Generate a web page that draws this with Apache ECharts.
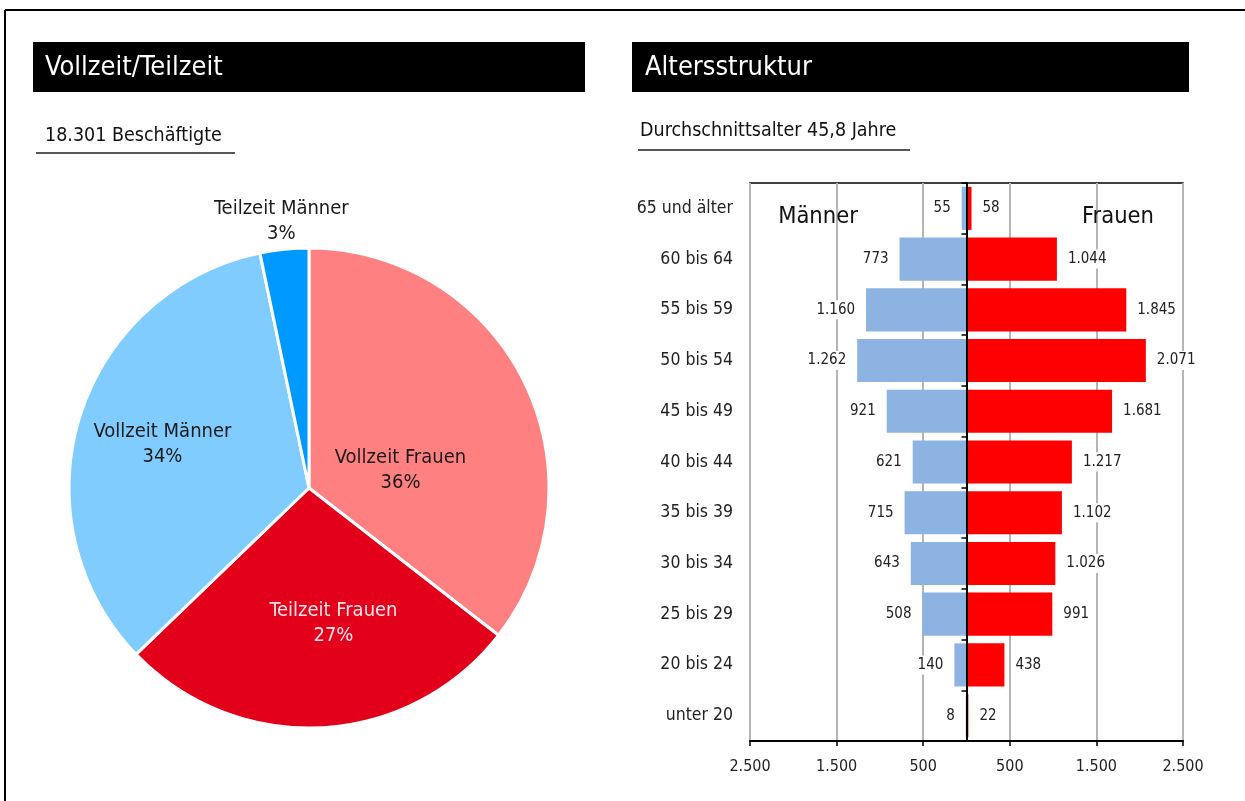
<!DOCTYPE html>
<html>
<head>
<meta charset="utf-8">
<script src="https://cdn.jsdelivr.net/npm/echarts@6/dist/echarts.min.js"></script>
<style>
html,body{margin:0;padding:0;background:#fff;}
#c{width:1245px;height:801px;}
</style>
</head>
<body>
<div id="c"></div>
<script>
// ---- data ----
const pieNames = ['Vollzeit Frauen', 'Teilzeit Frauen', 'Vollzeit Männer', 'Teilzeit Männer'];
const pieValues = [6500, 4995, 6206, 600];
const ageCategories = ['65 und älter', '60 bis 64', '55 bis 59', '50 bis 54', '45 bis 49', '40 bis 44', '35 bis 39', '30 bis 34', '25 bis 29', '20 bis 24', 'unter 20'];
const menValues = [55, 773, 1160, 1262, 921, 621, 715, 643, 508, 140, 8];
const womenValues = [58, 1044, 1845, 2071, 1681, 1217, 1102, 1026, 991, 438, 22];
const titleLeft = 'Vollzeit/Teilzeit';
const titleRight = 'Altersstruktur';
const subLeft = '18.301 Beschäftigte';
const subRight = 'Durchschnittsalter 45,8 Jahre';

const FONT = "'Liberation Sans Narrow', 'DejaVu Sans Condensed', 'Noto Sans', sans-serif";
const pieColors = ['#FF8080', '#E2001A', '#80CCFF', '#0099FF'];
const pieLabelColors = ['#1a1a1a', '#ffe6ea', '#1a1a1a', '#1a1a1a'];
const pieLabelShift = [[-19, 36], [18, 12], [-29, -7], [-15, -144]];

function de(n) {
  return String(Math.abs(Math.round(n))).replace(/\B(?=(\d{3})+(?!\d))/g, '.');
}

const chart = echarts.init(document.getElementById('c'), null, {renderer: 'canvas'});

const option = {
  animation: false,
  backgroundColor: '#fff',
  textStyle: {fontFamily: FONT},
  graphic: [
    {type: 'line', shape: {x1: 5, y1: 10, x2: 1245, y2: 10}, style: {stroke: '#000', lineWidth: 2}},
    {type: 'line', shape: {x1: 5, y1: 10, x2: 5, y2: 801}, style: {stroke: '#000', lineWidth: 2}},
    {type: 'rect', shape: {x: 33, y: 42, width: 552, height: 50}, style: {fill: '#000'}},
    {type: 'rect', shape: {x: 632, y: 42, width: 557, height: 50}, style: {fill: '#000'}},
    {type: 'text', x: 45, y: 68, style: {text: titleLeft, fill: '#fff', font: '27px ' + FONT, textVerticalAlign: 'middle'}},
    {type: 'text', x: 645, y: 68, style: {text: titleRight, fill: '#fff', font: '27px ' + FONT, textVerticalAlign: 'middle'}},
    {type: 'text', x: 45, y: 136, style: {text: subLeft, fill: '#111', font: '19.5px ' + FONT, textVerticalAlign: 'middle'}},
    {type: 'text', x: 640, y: 131, style: {text: subRight, fill: '#111', font: '19.5px ' + FONT, textVerticalAlign: 'middle'}},
    {type: 'line', shape: {x1: 36, y1: 153, x2: 235, y2: 153}, style: {stroke: '#222', lineWidth: 1.5}},
    {type: 'line', shape: {x1: 638, y1: 150, x2: 910, y2: 150}, style: {stroke: '#222', lineWidth: 1.5}},
    {type: 'text', x: 818, y: 217, z: 20, style: {text: 'Männer', fill: '#111', font: '23.5px ' + FONT, textAlign: 'center', textVerticalAlign: 'middle'}},
    {type: 'text', x: 1118, y: 217, z: 20, style: {text: 'Frauen', fill: '#111', font: '23.5px ' + FONT, textAlign: 'center', textVerticalAlign: 'middle'}}
  ],
  grid: {
    left: 750, right: 62, top: 183, bottom: 60,
    show: true, borderColor: '#000', borderWidth: 1.5, backgroundColor: 'transparent'
  },
  xAxis: {
    type: 'value', min: -2500, max: 2500, interval: 1000,
    axisLine: {show: true, onZero: false, lineStyle: {color: '#000', width: 2}},
    axisTick: {show: true, length: 5, lineStyle: {color: '#000', width: 1.5}},
    axisLabel: {fontSize: 16, color: '#222', margin: 18, formatter: v => de(v), fontFamily: FONT},
    splitLine: {show: true, lineStyle: {color: '#b5b5b5', width: 2}}
  },
  yAxis: [
    {
      type: 'category', data: ageCategories, inverse: true, position: 'left',
      axisLine: {show: false, onZero: false}, axisTick: {show: false},
      axisLabel: {fontSize: 17.5, color: '#222', margin: 17, fontFamily: FONT}
    },
    {
      type: 'category', data: ageCategories, inverse: true, position: 'left', z: 10,
      axisLine: {show: true, onZero: true, lineStyle: {color: '#000', width: 2}},
      axisTick: {show: true, length: 5, lineStyle: {color: '#000', width: 1.5}},
      axisLabel: {show: false}
    }
  ],
  series: [
    {
      type: 'pie', center: [309, 488], radius: 240, startAngle: 90, clockwise: true,
      percentPrecision: 0,
      data: pieNames.map((n, i) => ({
        name: n, value: pieValues[i],
        itemStyle: {color: pieColors[i]},
        label: {color: pieLabelColors[i]}
      })),
      itemStyle: {borderColor: '#fff', borderWidth: 3},
      label: {show: true, position: 'inside', formatter: '{b}\n{d}%', fontSize: 20, lineHeight: 25, fontFamily: FONT, align: 'center'},
      labelLine: {show: false},
      labelLayout: function (p) { const o = pieLabelShift[p.dataIndex]; return {dx: o[0], dy: o[1]}; },
      emphasis: {disabled: true}
    },
    {
      type: 'bar', name: 'Männer', yAxisIndex: 0,
      data: menValues.map(v => -v),
      barWidth: '85%', barGap: '-100%',
      itemStyle: {color: '#8DB3E2'},
      label: {show: true, position: 'left', distance: 7, formatter: p => de(p.value), fontSize: 15, color: '#222',
        backgroundColor: '#fff', padding: [2, 4], fontFamily: FONT}
    },
    {
      type: 'bar', name: 'Frauen', yAxisIndex: 0,
      data: womenValues,
      barWidth: '85%', barGap: '-100%',
      itemStyle: {color: '#FF0000'},
      label: {show: true, position: 'right', distance: 7, formatter: p => de(p.value), fontSize: 15, color: '#222',
        backgroundColor: '#fff', padding: [2, 4], fontFamily: FONT}
    }
  ]
};
chart.setOption(option);
</script>
</body>
</html>
